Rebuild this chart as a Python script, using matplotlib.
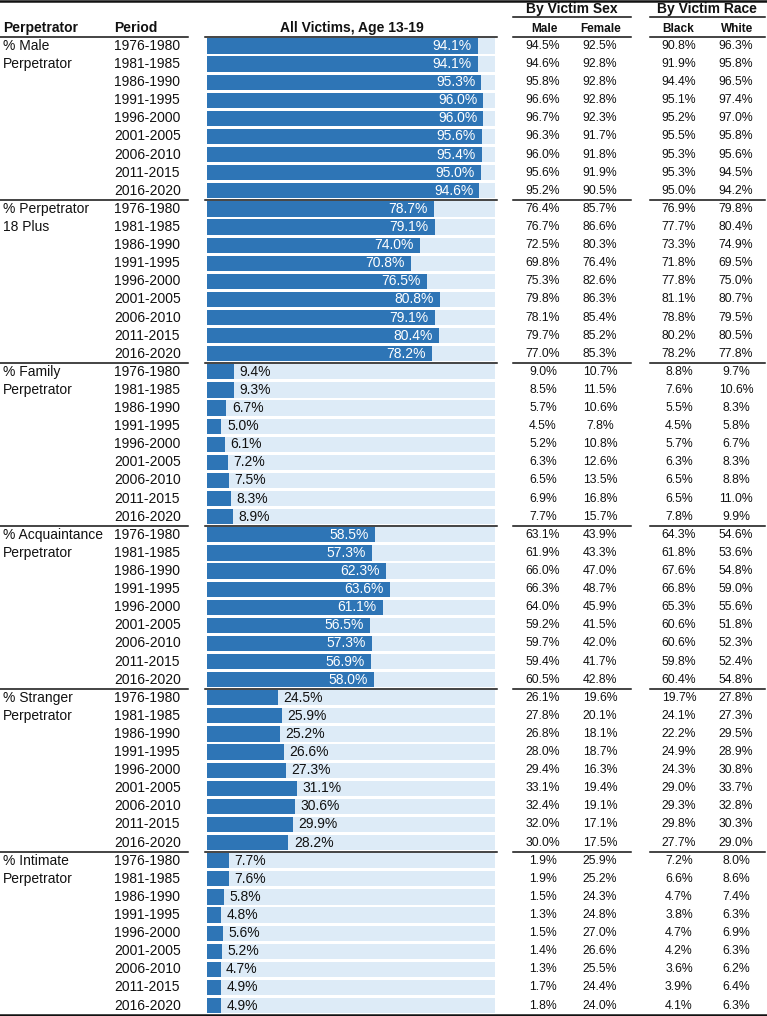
import numpy as np
import matplotlib
matplotlib.use("Agg")
import matplotlib.pyplot as plt
from matplotlib.lines import Line2D
from matplotlib.transforms import blended_transform_factory

plt.rcParams['font.family'] = ['Liberation Sans', 'DejaVu Sans']

groupes_l1 = ["% Male", "% Perpetrator", "% Family", "% Acquaintance", "% Stranger", "% Intimate"]
groupes_l2 = ["Perpetrator", "18 Plus", "Perpetrator", "Perpetrator", "Perpetrator", "Perpetrator"]
periodes = ["1976-1980", "1981-1985", "1986-1990", "1991-1995", "1996-2000",
            "2001-2005", "2006-2010", "2011-2015", "2016-2020"]

all_victims = [
    [94.1, 94.1, 95.3, 96.0, 96.0, 95.6, 95.4, 95.0, 94.6],
    [78.7, 79.1, 74.0, 70.8, 76.5, 80.8, 79.1, 80.4, 78.2],
    [9.4, 9.3, 6.7, 5.0, 6.1, 7.2, 7.5, 8.3, 8.9],
    [58.5, 57.3, 62.3, 63.6, 61.1, 56.5, 57.3, 56.9, 58.0],
    [24.5, 25.9, 25.2, 26.6, 27.3, 31.1, 30.6, 29.9, 28.2],
    [7.7, 7.6, 5.8, 4.8, 5.6, 5.2, 4.7, 4.9, 4.9],
]
male_victim = [
    [94.5, 94.6, 95.8, 96.6, 96.7, 96.3, 96.0, 95.6, 95.2],
    [76.4, 76.7, 72.5, 69.8, 75.3, 79.8, 78.1, 79.7, 77.0],
    [9.0, 8.5, 5.7, 4.5, 5.2, 6.3, 6.5, 6.9, 7.7],
    [63.1, 61.9, 66.0, 66.3, 64.0, 59.2, 59.7, 59.4, 60.5],
    [26.1, 27.8, 26.8, 28.0, 29.4, 33.1, 32.4, 32.0, 30.0],
    [1.9, 1.9, 1.5, 1.3, 1.5, 1.4, 1.3, 1.7, 1.8],
]
female_victim = [
    [92.5, 92.8, 92.8, 92.8, 92.3, 91.7, 91.8, 91.9, 90.5],
    [85.7, 86.6, 80.3, 76.4, 82.6, 86.3, 85.4, 85.2, 85.3],
    [10.7, 11.5, 10.6, 7.8, 10.8, 12.6, 13.5, 16.8, 15.7],
    [43.9, 43.3, 47.0, 48.7, 45.9, 41.5, 42.0, 41.7, 42.8],
    [19.6, 20.1, 18.1, 18.7, 16.3, 19.4, 19.1, 17.1, 17.5],
    [25.9, 25.2, 24.3, 24.8, 27.0, 26.6, 25.5, 24.4, 24.0],
]
black_victim = [
    [90.8, 91.9, 94.4, 95.1, 95.2, 95.5, 95.3, 95.3, 95.0],
    [76.9, 77.7, 73.3, 71.8, 77.8, 81.1, 78.8, 80.2, 78.2],
    [8.8, 7.6, 5.5, 4.5, 5.7, 6.3, 6.5, 6.5, 7.8],
    [64.3, 61.8, 67.6, 66.8, 65.3, 60.6, 60.6, 59.8, 60.4],
    [19.7, 24.1, 22.2, 24.9, 24.3, 29.0, 29.3, 29.8, 27.7],
    [7.2, 6.6, 4.7, 3.8, 4.7, 4.2, 3.6, 3.9, 4.1],
]
white_victim = [
    [96.3, 95.8, 96.5, 97.4, 97.0, 95.8, 95.6, 94.5, 94.2],
    [79.8, 80.4, 74.9, 69.5, 75.0, 80.7, 79.5, 80.5, 77.8],
    [9.7, 10.6, 8.3, 5.8, 6.7, 8.3, 8.8, 11.0, 9.9],
    [54.6, 53.6, 54.8, 59.0, 55.6, 51.8, 52.3, 52.4, 54.8],
    [27.8, 27.3, 29.5, 28.9, 30.8, 33.7, 32.8, 30.3, 29.0],
    [8.0, 8.6, 7.4, 6.3, 6.9, 6.3, 6.2, 6.4, 6.3],
]

W, H = 767, 1016
bleu = "#2E75B6"
fond = "#DDEBF7"
noir = "#111111"

fig = plt.figure(figsize=(W / 100, H / 100), dpi=100)
y_haut, y_bas = 36.9, 1014.6
ax = fig.add_axes([207 / W, 1 - y_bas / H, 288 / W, (y_bas - y_haut) / H])

n = len(periodes)
vals = np.array(all_victims).ravel()
rows = np.arange(len(vals))

ax.barh(rows, [100] * len(vals), height=0.84, color=fond, linewidth=0)
ax.barh(rows, vals, height=0.84, color=bleu, linewidth=0)
ax.set_xlim(0, 100)
ax.set_ylim(len(vals) - 0.5, -0.5)
ax.axis("off")

# etiquettes des barres
for r, v in zip(rows, vals):
    if v > 50:
        ax.annotate(f"{v:.1f}%", (v, r), xytext=(-4.5, 0), textcoords="offset points",
                    ha="right", va="center", color="white", fontsize=10)
    else:
        ax.annotate(f"{v:.1f}%", (v, r), xytext=(4, 0), textcoords="offset points",
                    ha="left", va="center", color=noir, fontsize=10)

tr = blended_transform_factory(fig.transFigure, ax.transData)

# colonnes de gauche
for g in range(len(groupes_l1)):
    ax.text(3 / W, g * n, groupes_l1[g], transform=tr, ha="left", va="center", fontsize=10, color=noir)
    ax.text(3 / W, g * n + 1, groupes_l2[g], transform=tr, ha="left", va="center", fontsize=10, color=noir)
    for i, p in enumerate(periodes):
        ax.text(114 / W, g * n + i, p, transform=tr, ha="left", va="center", fontsize=10, color=noir)

# colonnes de droite
colonnes = [(543, male_victim), (600, female_victim), (679, black_victim), (736, white_victim)]
for xc, tab in colonnes:
    for r, v in zip(rows, np.array(tab).ravel()):
        ax.text(xc / W, r, f"{v:.1f}%", transform=tr, ha="center", va="center",
                fontsize=8.8, color=noir)

# traits
segments = [(0, 188), (205, 497), (513, 631), (650, 765)]
def trait(x0, x1, y, lw):
    fig.add_artist(Line2D([x0 / W, x1 / W], [y, y], transform=tr, color=noir, lw=lw, clip_on=False))

for x0, x1 in segments:
    trait(x0, x1, -0.5, 1.1)
    for g in range(1, len(groupes_l1)):
        trait(x0, x1, g * n - 0.5, 1.1)
trait(0, W, len(vals) - 0.5, 1.8)
fig.add_artist(Line2D([0, 1], [1 - 1 / H, 1 - 1 / H], transform=fig.transFigure, color=noir, lw=1.8))
for x0, x1 in segments[2:]:
    fig.add_artist(Line2D([x0 / W, x1 / W], [1 - 17 / H, 1 - 17 / H], transform=fig.transFigure, color=noir, lw=1.1))

# en-tetes
def entete(x, y, s, ha="center", fs=10):
    fig.text(x / W, 1 - y / H, s, ha=ha, va="center", fontsize=fs, fontweight="bold", color=noir)

entete(3, 28, "Perpetrator", ha="left")
entete(114, 28, "Period", ha="left")
entete(352, 28, "All Victims, Age 13-19")
entete(572, 9.5, "By Victim Sex")
entete(707, 9.5, "By Victim Race")
entete(544, 29, "Male", fs=8.5)
entete(601, 29, "Female", fs=8.5)
entete(678, 29, "Black", fs=8.5)
entete(737, 29, "White", fs=8.5)

fig.savefig("out.png", dpi=100)
